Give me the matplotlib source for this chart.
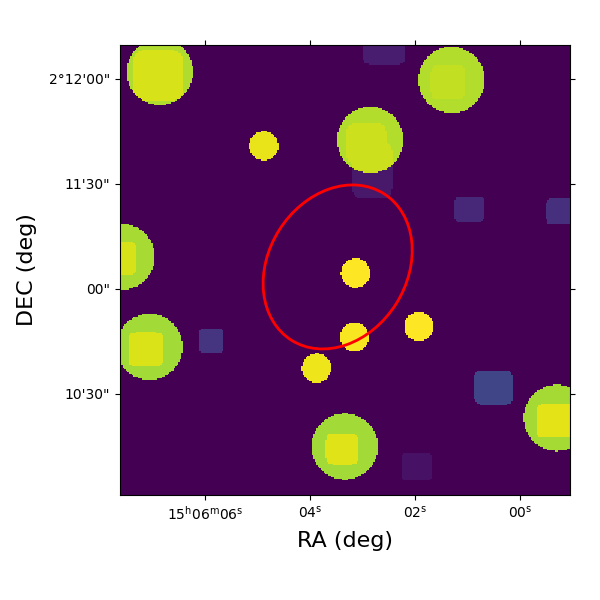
import numpy as np
import matplotlib
matplotlib.use("Agg")
import matplotlib.pyplot as plt
from matplotlib.patches import Ellipse

# sky offsets in arcsec from 15h06m00s, +2d11m00s
ra_ticks = [90, 60, 30, 0]
ra_labels = ["15$^{\\mathrm{h}}$06$^{\\mathrm{m}}$06$^{\\mathrm{s}}$", "04$^{\\mathrm{s}}$", "02$^{\\mathrm{s}}$", "00$^{\\mathrm{s}}$"]
dec_ticks = [60, 30, 0, -30]
dec_labels = ["2°12'00\"", "11'30\"", "00\"", "10'30\""]

# faint square sources
dim_x = [38.7, 42.1, 14.3, -11.7, 88.3, 7.4, 29.4]
dim_y = [68.9, 35.4, 22.9, 22.3, -14.8, -28.2, -50.9]
dim_hw = [6.1, 5.8, 4.3, 3.9, 3.4, 5.5, 4.4]
dim_hh = [4.5, 9.5, 3.7, 3.7, 3.6, 5.0, 4.0]
dim_val = [0.08, 0.07, 0.11, 0.14, 0.15, 0.21, 0.05]

# large round sources
big_x = [103.0, 19.4, 42.7, 114.0, 106.0, 50.0, -10.8]
big_y = [62.3, 60.0, 42.8, 9.3, -16.5, -45.1, -36.9]
big_val = [0.88, 0.885, 0.885, 0.87, 0.86, 0.86, 0.865]

# bright square cores
core_x = [103.5, 20.4, 43.8, 114.7, 107.0, 50.8, -10.6, 42.1]
core_y = [61.3, 59.3, 41.7, 8.8, -17.3, -45.8, -37.7, 34.1]
core_hw = [7.1, 4.9, 5.7, 5.0, 5.1, 4.6, 5.7, 5.8]
core_hh = [7.2, 5.0, 5.8, 4.8, 4.9, 4.5, 4.8, 8.1]
core_val = [0.94, 0.91, 0.925, 0.94, 0.945, 0.95, 0.96, 0.925]

# small round sources
small_x = [73.2, 46.9, 47.2, 28.8, 58.1]
small_y = [41.1, 4.6, -13.7, -10.7, -22.6]
small_val = [0.965, 1.0, 0.99, 1.0, 0.975]

ell_x, ell_y = 52.1, 6.3
ell_w, ell_h = 49.5, 39.5
ell_angle = 122.3

xlim = (114.29, -14.29)
ylim = (-58.86, 69.71)
npix = 300
big_r = 9.5
small_r = 4.2


def square_mask(X, Y, cx, cy, hw, hh):
    return np.abs((X-cx)/hw)**6 + np.abs((Y-cy)/hh)**6 <= 1


xs = np.linspace(xlim[0], xlim[1], npix)
ys = np.linspace(ylim[0], ylim[1], npix)
X, Y = np.meshgrid(xs, ys)
img = np.zeros((npix, npix))

for i in range(len(dim_x)):
    img[square_mask(X, Y, dim_x[i], dim_y[i], dim_hw[i], dim_hh[i])] = dim_val[i]
inside = np.zeros((npix, npix), dtype=bool)
for i in range(len(big_x)):
    disc = (X-big_x[i])**2 + (Y-big_y[i])**2 <= big_r**2
    img[disc] = big_val[i]
    inside |= disc
for i in range(len(core_x)):
    # cores never spill out of the round source
    m = square_mask(X, Y, core_x[i], core_y[i], core_hw[i], core_hh[i])
    img[m & inside] = core_val[i]
for i in range(len(small_x)):
    img[(X-small_x[i])**2 + (Y-small_y[i])**2 <= small_r**2] = small_val[i]

fig = plt.figure(figsize=(6, 6), dpi=100)
ax = fig.add_axes([0.2, 0.175, 0.75, 0.75])
ax.imshow(img, origin="lower", cmap="viridis", vmin=0, vmax=1, aspect="auto",
          extent=[xlim[0], xlim[1], ylim[0], ylim[1]], interpolation="nearest")
ax.add_patch(Ellipse((ell_x, ell_y), ell_w, ell_h, angle=ell_angle, fill=False, edgecolor="red", lw=2))
ax.set_xlim(xlim)
ax.set_ylim(ylim)
ax.set_xticks(ra_ticks)
ax.set_xticklabels(ra_labels)
ax.set_yticks(dec_ticks)
ax.set_yticklabels(dec_labels)
ax.tick_params(top=True, right=True, labelsize=10)
ax.set_xlabel("RA (deg)", fontsize=16, labelpad=6.3)
ax.set_ylabel("DEC (deg)", fontsize=16, labelpad=9)
fig.savefig("out.png", dpi=100)
